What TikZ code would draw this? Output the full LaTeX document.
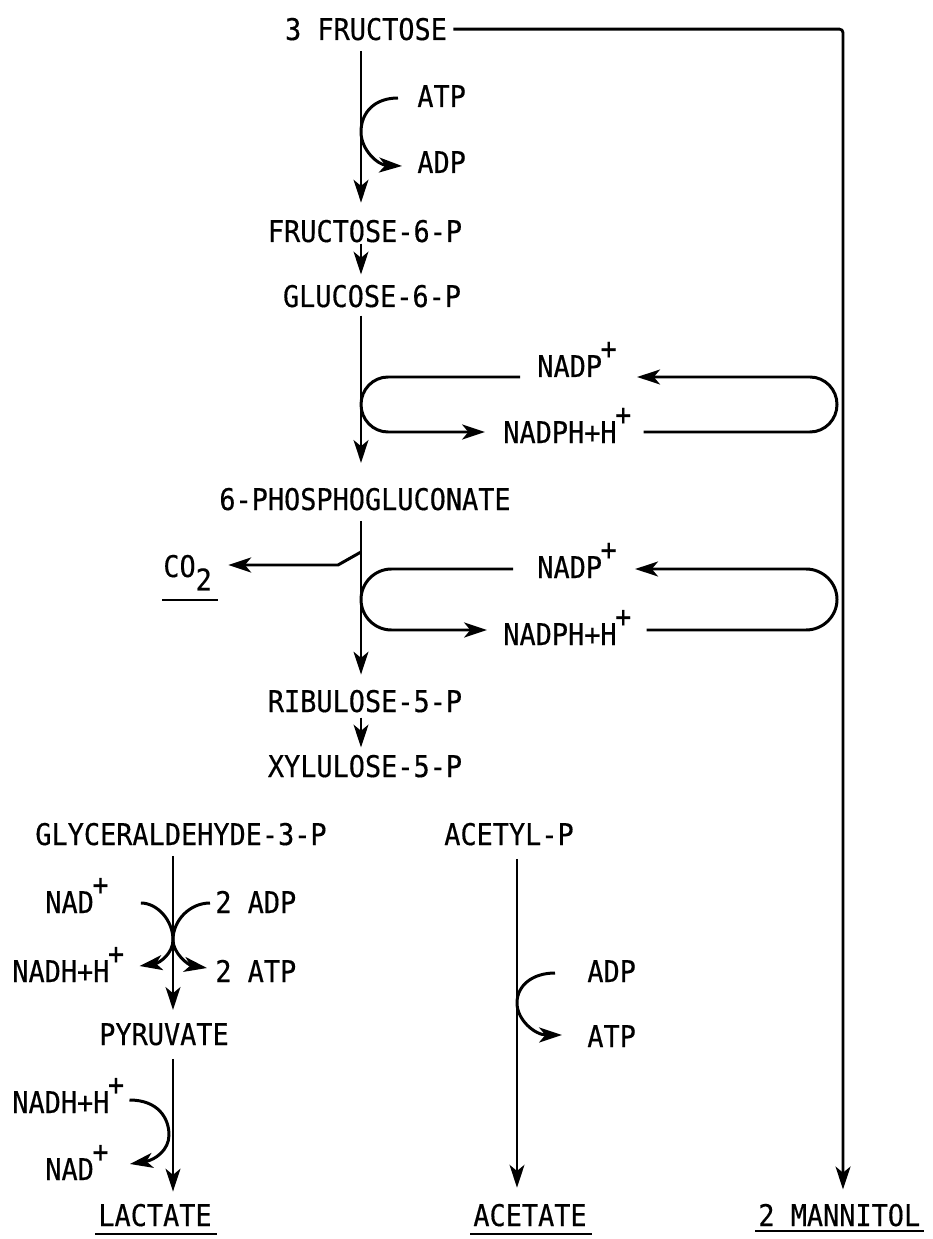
\documentclass[tikz,border=0pt]{standalone}
\usepackage{fontspec}
\newfontfamily\lab[FakeStretch=0.9,FakeBold=0.4]{DejaVu Sans Mono}
\usetikzlibrary{arrows.meta,calc}
\newcommand\supplus{\kern-0.05em\raisebox{0.6em}{+}}
\newcommand\subtwo{\raisebox{-0.45em}{2}}
\begin{document}
\begin{tikzpicture}[x=0.02cm,y=-0.02cm,
  lbl/.style={font=\lab\fontsize{17}{20}\selectfont, inner sep=0pt},
  tip/.style={-{Stealth[length=13pt,width=8.5pt,inset=3.5pt]}},
  spine/.style={line width=1.2pt,tip},
  carr/.style={line width=1.7pt,tip},
  plain/.style={line width=1.7pt},
  uline/.style={line width=1.6pt}]
\useasboundingbox[fill=white] (0,0) rectangle (932,1239);
\coordinate (sp) at (361,0);
\coordinate (gs) at (173,0);
\coordinate (as) at (517,0);
\coordinate (mx) at (843,0);
% main column
\node[lbl,anchor=base] (fru) at (366,40) {3 FRUCTOSE};
\node[lbl,anchor=base] (f6p) at (365,242) {FRUCTOSE-6-P};
\node[lbl,anchor=base] (g6p) at (372,307) {GLUCOSE-6-P};
\node[lbl,anchor=base] (pg6) at (365,510) {6-PHOSPHOGLUCONATE};
\node[lbl,anchor=base] (ru5p) at (365,712) {RIBULOSE-5-P};
\node[lbl,anchor=base] (xu5p) at (365,777) {XYLULOSE-5-P};
\node[lbl,anchor=base] (gap) at (181,845) {GLYCERALDEHYDE-3-P};
\node[lbl,anchor=base] (acp) at (509,845) {ACETYL-P};
\node[lbl,anchor=base] (pyr) at (164,1045) {PYRUVATE};
\node[lbl,anchor=base west] (lac) at (98,1226) {LACTATE};
\node[lbl,anchor=base west] (ace) at (473,1226) {ACETATE};
\node[lbl,anchor=base west] (man) at (758,1226) {2 MANNITOL};
% side labels
\node[lbl,anchor=base west] (atp1) at (417,107) {ATP};
\node[lbl,anchor=base west] (adp1) at (417,173) {ADP};
\node[lbl,anchor=base west] (nadp1) at (537,377) {NADP\supplus};
\node[lbl,anchor=base west] (nadph1) at (503,443) {NADPH+H\supplus};
\node[lbl,anchor=base west] (nadp2) at (537,578) {NADP\supplus};
\node[lbl,anchor=base west] (nadph2) at (503,645) {NADPH+H\supplus};
\node[lbl,anchor=base west] (co2) at (163,577) {CO\subtwo};
\node[lbl,anchor=base west] (nad1) at (45,913) {NAD\supplus};
\node[lbl,anchor=base west] (adp2) at (215,913) {2 ADP};
\node[lbl,anchor=base west] (nadh1) at (12,982) {NADH+H\supplus};
\node[lbl,anchor=base west] (atp2) at (215,982) {2 ATP};
\node[lbl,anchor=base west] (nadh2) at (12,1113) {NADH+H\supplus};
\node[lbl,anchor=base west] (nad2) at (45,1180) {NAD\supplus};
\node[lbl,anchor=base west] (adp3) at (587,982) {ADP};
\node[lbl,anchor=base west] (atp3) at (587,1047) {ATP};
% underlines
\draw[uline] ($(lac.base west)+(-3,8)$) -- ($(lac.base east)+(5,8)$);
\draw[uline] ($(ace.base west)+(-3,8)$) -- ($(ace.base east)+(5,8)$);
\draw[uline] ($(man.base west)+(-3,5)$) -- ($(man.base east)+(3,5)$);
\draw[uline] ($(co2.base west)+(-1,23)$) -- ($(co2.base east)+(6,23)$);
% spines
\draw[spine,shorten <=5.7pt,shorten >=9.6pt] (fru.south -| sp) -- (f6p.north -| sp);
\draw[spine,shorten <=0.5pt,shorten >=5.7pt] (f6p.south -| sp) -- (g6p.north -| sp);
\draw[spine,shorten <=4.5pt,shorten >=14pt] (g6p.south -| sp) -- (pg6.north -| sp);
\draw[spine,shorten <=5.7pt,shorten >=8.5pt] (pg6.south -| sp) -- (ru5p.north -| sp);
\draw[spine,shorten <=2.8pt,shorten >=4pt] (ru5p.south -| sp) -- (xu5p.north -| sp);
\draw[spine,shorten <=5.7pt,shorten >=7.4pt] (gap.south -| gs) -- (pyr.north -| gs);
\draw[spine,shorten <=7.4pt,shorten >=6.8pt] (pyr.south -| gs) -- (lac.north -| gs);
\draw[spine,shorten <=7.4pt,shorten >=9pt] (acp.south -| as) -- (ace.north -| as);
\draw[spine,line width=1.6pt,rounded corners=2pt,shorten >=8pt] ($(fru.east)+(6,0)$) -| (man.north -| mx);
% ATP/ADP (hexokinase)
\draw[carr] ($(atp1.base west)+(-19,-9)$) .. controls (375,98) and (361,112) .. (361,132)
  .. controls (361,150) and (378,165) .. ($(adp1.base west)+(-15,-7)$);
% first NADP loop
\draw[carr] ($(nadp1.base west)+(-17,0)$) -- (388,377) .. controls (373,377) and (361,389.5) .. (361,404.5)
  .. controls (361,419.5) and (373,432) .. (388,432) -- ($(nadph1.base west)+(-18,-11)$);
\draw[carr] ($(nadph1.base east)+(12,-11)$) -- (810,432) .. controls (825,432) and (837,419.5) .. (837,404.5)
  .. controls (837,389.5) and (825,377) .. (810,377) -- ($(nadp1.base east)+(20,0)$);
% second NADP loop
\draw[carr] ($(nadp2.base west)+(-24,-9)$) -- (391.5,569) .. controls (374.7,569) and (361,582.7) .. (361,599.5)
  .. controls (361,616.3) and (374.7,630) .. (391.5,630) -- ($(nadph2.base west)+(-16,-15)$);
\draw[carr] ($(nadph2.base east)+(15,-15)$) -- (806,630) .. controls (823,630) and (837,616.3) .. (837,599.5)
  .. controls (837,582.7) and (823,569) .. (806,569) -- ($(nadp2.base east)+(18,-9)$);
% CO2
\draw[carr] (361,552) -- (338,565) -- ($(co2.base east)+(16,-12)$);
% glyceraldehyde step
\draw[carr] ($(nad1.base east)+(32,-10)$) .. controls (157,903) and (173,920) .. (173,940)
  .. controls (173,953) and (160,963) .. ($(nadh1.base east)+(15,-16)$);
\draw[carr] ($(adp2.base west)+(-5,-10)$) .. controls (190,903) and (173,920) .. (173,940)
  .. controls (173,953) and (188,965) .. ($(atp2.base west)+(-8,-14)$);
% lactate step
\draw[carr] ($(nadh2.base east)+(5,-13)$) .. controls (158,1100) and (169,1118) .. (169,1135)
  .. controls (169,1150) and (155,1160) .. ($(nad2.base east)+(21,-16)$);
% acetate kinase
\draw[carr] ($(adp3.base west)+(-32,-9)$) .. controls (533,973) and (517,985) .. (517,1003)
  .. controls (517,1020) and (535,1035) .. ($(atp3.base west)+(-25,-12)$);
\end{tikzpicture}
\end{document}
